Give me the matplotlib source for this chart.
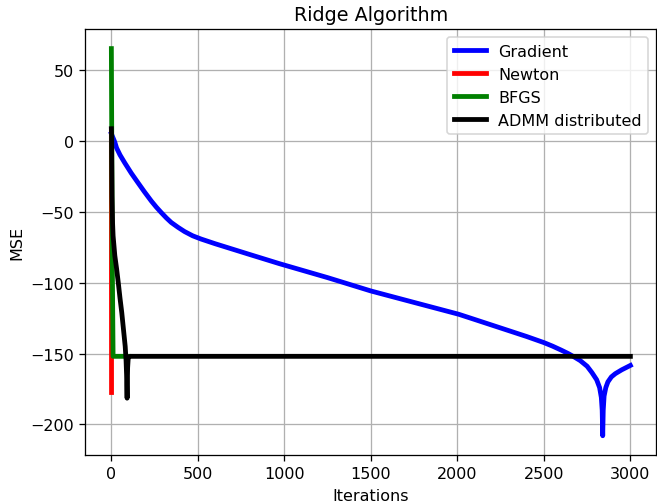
import matplotlib
matplotlib.use("Agg")
import matplotlib.pyplot as plt

# MSE curves per iteration for each solver
grad_iter = [0, 20, 30, 50, 77, 115, 154, 190, 231, 260, 289, 318, 346, 385,
             423, 470, 519, 600, 700, 800, 970, 1250, 1500, 1750, 2007, 2100,
             2200, 2300, 2400, 2500, 2550, 2600, 2640, 2672, 2710, 2750,
             2778, 2805, 2822, 2832, 2837, 2840, 2843, 2848, 2858, 2870,
             2890, 2913, 2950, 3000]
grad_mse = [5, -1, -5, -10, -15.5, -22.8, -29.6, -35.8, -42.5, -46.8, -50.7,
            -54.4, -57.6, -61, -64, -67, -69.3, -72.6, -76.4, -80.2, -86.6,
            -96.5, -105.9, -114, -122.3, -126, -130, -134, -138, -142.3,
            -144.8, -147.6, -150, -152.2, -155, -159, -163.5, -168.5, -174,
            -181, -190, -208, -190, -180, -174, -170, -166.5, -164.2,
            -161.5, -158.4]

newton_iter = [0, 1]
newton_mse = [7, -177.5]

bfgs_iter = [0, 2, 5, 10, 100]
bfgs_mse = [65, 10, -80, -152, -152]

admm_iter = [0, 1, 2, 4, 7, 10, 20, 30, 40, 50, 60, 70, 80, 85, 88, 90, 91,
             92, 94, 97, 100, 110, 3000]
admm_mse = [8.5, 5, -10, -39, -58, -67, -81, -90, -100, -111, -121, -133,
            -145, -155, -165, -176, -181.5, -172, -160, -154, -152.5, -152,
            -152]

fig = plt.figure(figsize=(657 / 115, 504 / 115), dpi=115)
ax = fig.add_axes([0.130, 0.095, 0.869, 0.845])

ax.plot(grad_iter, grad_mse, color="blue", lw=3, label="Gradient")
ax.plot(newton_iter, newton_mse, color="red", lw=3, label="Newton")
ax.plot(bfgs_iter, bfgs_mse, color="green", lw=3, label="BFGS")
ax.plot(admm_iter, admm_mse, color="black", lw=3, label="ADMM distributed")

ax.set_title("Ridge Algorithm")
ax.set_xlabel("Iterations")
ax.set_ylabel("MSE")
ax.grid(True)
ax.legend(loc="upper right")

fig.savefig("out.png", dpi=115)
